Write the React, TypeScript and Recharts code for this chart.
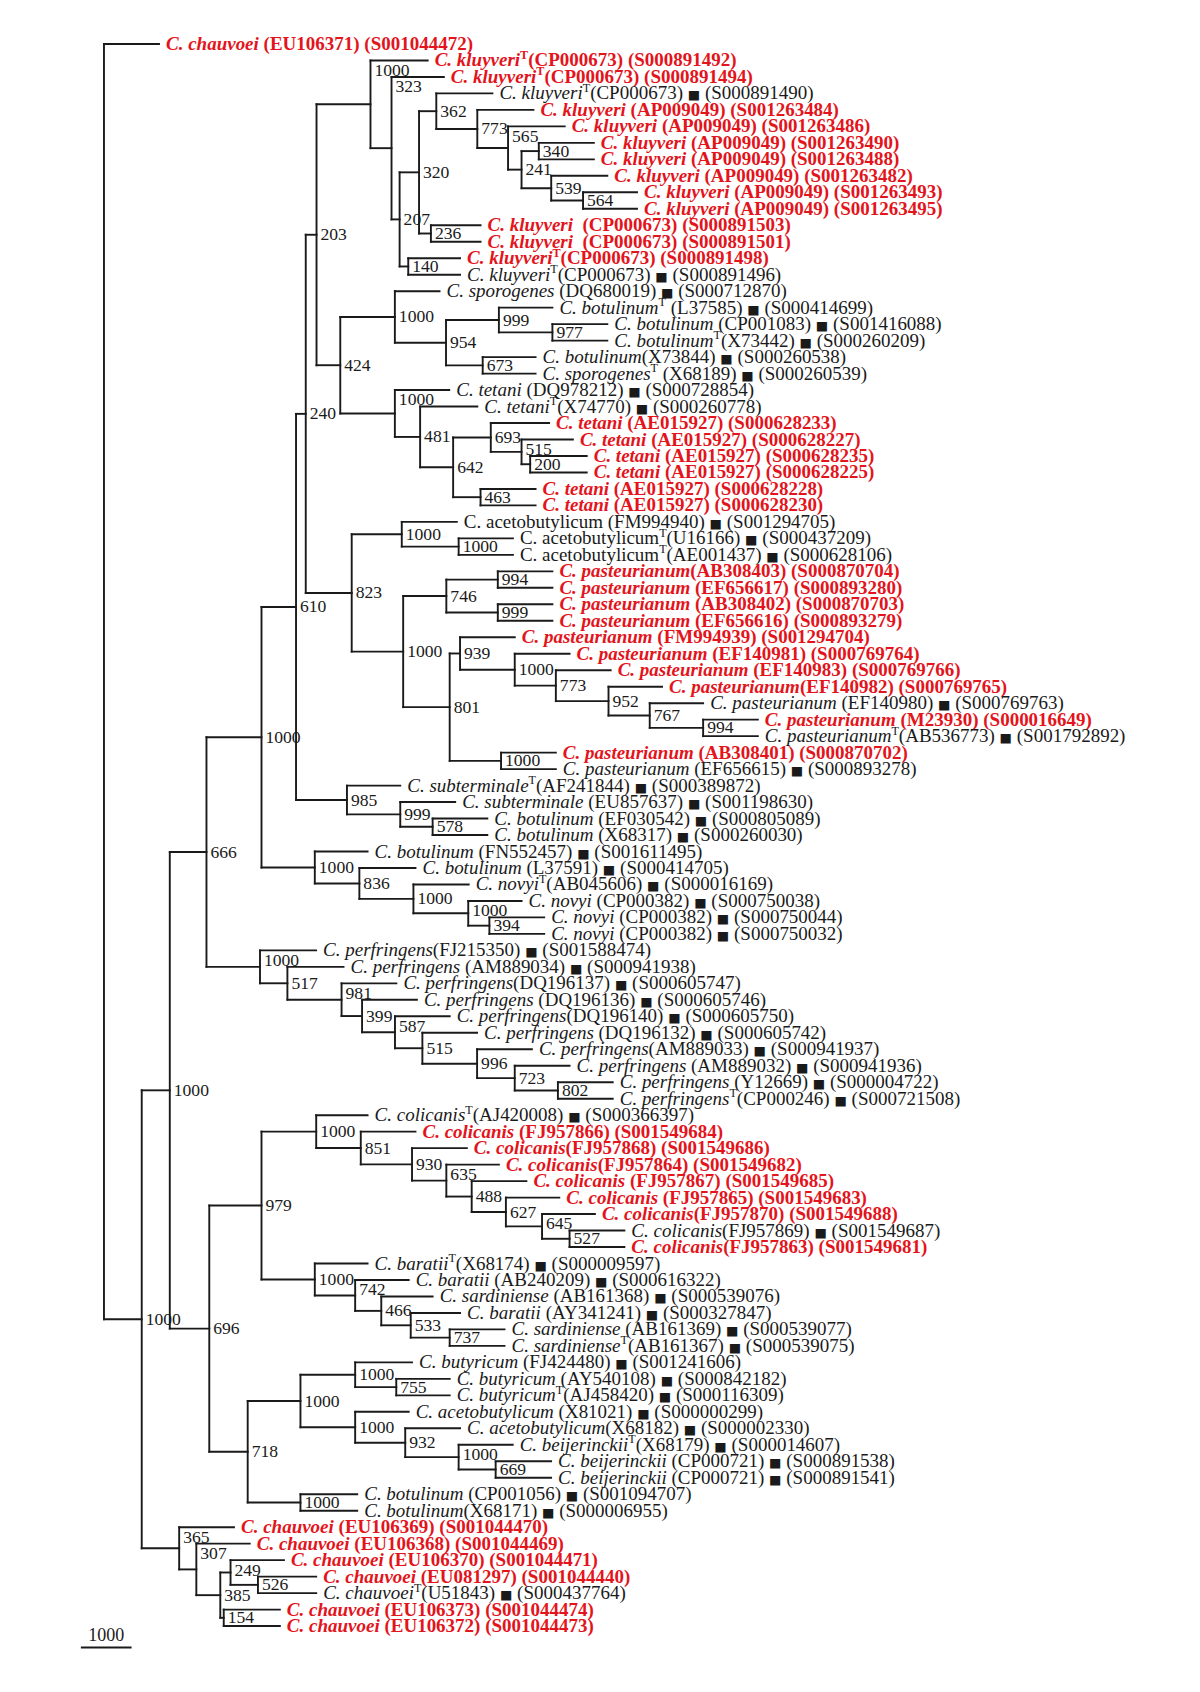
import { ScatterChart, Scatter, XAxis, YAxis, ReferenceLine } from "recharts";

const RED = "#e3141b";
const INK = "#1a1a1a";
const FONT = "'Liberation Serif', 'Times New Roman', serif";
const LEAF_SIZE = 18;
const LEAF_STRETCH = 1.055;
const SUPPORT_SIZE = 16;
const SUPPORT_STRETCH = 1.1;

const CHART_W = 1184;
const CHART_H = 1676;
const MARGIN = { top: 19.5, right: 41.4, bottom: 8.5, left: 63.6 };
const X_DOMAIN: [number, number] = [-30, 970];
const Y_DOMAIN: [number, number] = [0, 100];
const PX_PER_UNIT = (CHART_W - MARGIN.left - MARGIN.right) / (X_DOMAIN[1] - X_DOMAIN[0]);

// leaves, top to bottom
const leafSpecies = [
  "C. chauvoei", "C. kluyveri", "C. kluyveri", "C. kluyveri", "C. kluyveri", "C. kluyveri", "C. kluyveri",
  "C. kluyveri", "C. kluyveri", "C. kluyveri", "C. kluyveri", "C. kluyveri", "C. kluyveri", "C. kluyveri",
  "C. kluyveri", "C. sporogenes", "C. botulinum", "C. botulinum", "C. botulinum", "C. botulinum",
  "C. sporogenes", "C. tetani", "C. tetani", "C. tetani", "C. tetani", "C. tetani", "C. tetani", "C. tetani",
  "C. tetani", "C. acetobutylicum", "C. acetobutylicum", "C. acetobutylicum", "C. pasteurianum",
  "C. pasteurianum", "C. pasteurianum", "C. pasteurianum", "C. pasteurianum", "C. pasteurianum",
  "C. pasteurianum", "C. pasteurianum", "C. pasteurianum", "C. pasteurianum", "C. pasteurianum",
  "C. pasteurianum", "C. pasteurianum", "C. subterminale", "C. subterminale", "C. botulinum", "C. botulinum",
  "C. botulinum", "C. botulinum", "C. novyi", "C. novyi", "C. novyi", "C. novyi", "C. perfringens",
  "C. perfringens", "C. perfringens", "C. perfringens", "C. perfringens", "C. perfringens", "C. perfringens",
  "C. perfringens", "C. perfringens", "C. perfringens", "C. colicanis", "C. colicanis", "C. colicanis",
  "C. colicanis", "C. colicanis", "C. colicanis", "C. colicanis", "C. colicanis", "C. colicanis",
  "C. baratii", "C. baratii", "C. sardiniense", "C. baratii", "C. sardiniense", "C. sardiniense",
  "C. butyricum", "C. butyricum", "C. butyricum", "C. acetobutylicum", "C. acetobutylicum",
  "C. beijerinckii", "C. beijerinckii", "C. beijerinckii", "C. botulinum", "C. botulinum", "C. chauvoei",
  "C. chauvoei", "C. chauvoei", "C. chauvoei", "C. chauvoei", "C. chauvoei", "C. chauvoei",
];

const leafAccession = [
  " (EU106371)", "(CP000673)", "(CP000673)", "(CP000673)", " (AP009049)", " (AP009049)", " (AP009049)",
  " (AP009049)", " (AP009049)", " (AP009049)", " (AP009049)", "  (CP000673)", "  (CP000673)", "(CP000673)",
  "(CP000673)", " (DQ680019)", " (L37585)", " (CP001083)", "(X73442)", "(X73844)", " (X68189)",
  " (DQ978212)", "(X74770)", " (AE015927)", " (AE015927)", " (AE015927)", " (AE015927)", " (AE015927)",
  " (AE015927)", " (FM994940)", "(U16166)", "(AE001437)", "(AB308403)", " (EF656617)", " (AB308402)",
  " (EF656616)", " (FM994939)", " (EF140981)", " (EF140983)", "(EF140982)", " (EF140980)", " (M23930)",
  "(AB536773)", " (AB308401)", " (EF656615)", "(AF241844)", " (EU857637)", " (EF030542)", " (X68317)",
  " (FN552457)", " (L37591)", "(AB045606)", " (CP000382)", " (CP000382)", " (CP000382)", "(FJ215350)",
  " (AM889034)", "(DQ196137)", " (DQ196136)", "(DQ196140)", " (DQ196132)", "(AM889033)", " (AM889032)",
  " (Y12669)", "(CP000246)", "(AJ420008)", " (FJ957866)", "(FJ957868)", "(FJ957864)", " (FJ957867)",
  " (FJ957865)", "(FJ957870)", "(FJ957869)", "(FJ957863)", "(X68174)", " (AB240209)", " (AB161368)",
  " (AY341241)", " (AB161369)", "(AB161367)", " (FJ424480)", " (AY540108)", "(AJ458420)", " (X81021)",
  "(X68182)", "(X68179)", " (CP000721)", " (CP000721)", " (CP001056)", "(X68171)", " (EU106369)",
  " (EU106368)", " (EU106370)", " (EU081297)", "(U51843)", " (EU106373)", " (EU106372)",
];

const leafSeqId = [
  "(S001044472)", "(S000891492)", "(S000891494)", "(S000891490)", "(S001263484)", "(S001263486)",
  "(S001263490)", "(S001263488)", "(S001263482)", "(S001263493)", "(S001263495)", "(S000891503)",
  "(S000891501)", "(S000891498)", "(S000891496)", "(S000712870)", "(S000414699)", "(S001416088)",
  "(S000260209)", "(S000260538)", "(S000260539)", "(S000728854)", "(S000260778)", "(S000628233)",
  "(S000628227)", "(S000628235)", "(S000628225)", "(S000628228)", "(S000628230)", "(S001294705)",
  "(S000437209)", "(S000628106)", "(S000870704)", "(S000893280)", "(S000870703)", "(S000893279)",
  "(S001294704)", "(S000769764)", "(S000769766)", "(S000769765)", "(S000769763)", "(S000016649)",
  "(S001792892)", "(S000870702)", "(S000893278)", "(S000389872)", "(S001198630)", "(S000805089)",
  "(S000260030)", "(S001611495)", "(S000414705)", "(S000016169)", "(S000750038)", "(S000750044)",
  "(S000750032)", "(S001588474)", "(S000941938)", "(S000605747)", "(S000605746)", "(S000605750)",
  "(S000605742)", "(S000941937)", "(S000941936)", "(S000004722)", "(S000721508)", "(S000366397)",
  "(S001549684)", "(S001549686)", "(S001549682)", "(S001549685)", "(S001549683)", "(S001549688)",
  "(S001549687)", "(S001549681)", "(S000009597)", "(S000616322)", "(S000539076)", "(S000327847)",
  "(S000539077)", "(S000539075)", "(S001241606)", "(S000842182)", "(S000116309)", "(S000000299)",
  "(S000002330)", "(S000014607)", "(S000891538)", "(S000891541)", "(S001094707)", "(S000006955)",
  "(S001044470)", "(S001044469)", "(S001044471)", "(S001044440)", "(S000437764)", "(S001044474)",
  "(S001044473)",
];

// distance from root to each leaf tip
const leafTip = [
  51, 300, 315, 360, 398, 427, 454, 454, 466.5, 494, 494, 349, 349, 330, 330, 311, 415.6, 466.5, 466.5, 400,
  400, 320, 346, 412.5, 434.6, 447.4, 447.4, 400, 400, 327, 379, 379, 415.6, 415.6, 415.6, 415.6, 380.7,
  431.5, 469.6, 517.2, 555.3, 606, 606, 418.8, 418.8, 274.6, 325.5, 355.3, 355.3, 244.3, 288.7, 338, 387,
  408, 408, 196.6, 222, 271, 290, 320.4, 345.8, 396.6, 431.5, 471.5, 471.5, 244.3, 288.7, 336.3, 366,
  391.5, 422, 455, 482.3, 482.3, 244.3, 282.4, 304.6, 330, 371.2, 371.2, 285.5, 320.4, 320.4, 282.4, 330,
  378.8, 414.4, 414.4, 234.7, 234.7, 120.5, 135.1, 166.8, 196.7, 196.7, 163, 163,
];

const typeStrains = [2, 3, 4, 14, 15, 17, 19, 21, 23, 31, 32, 43, 46, 52, 65, 66, 75, 80, 83, 86, 95];
const highlighted = [
  1, 2, 3, 5, 6, 7, 8, 9, 10, 11, 12, 13, 14, 24, 25, 26, 27, 28, 29, 33, 34, 35, 36, 37, 38, 39, 40, 42, 44,
  67, 68, 69, 70, 71, 72, 74, 91, 92, 93, 94, 96, 97,
];
const uprightNames = [30, 31, 32];

const scaleBar = { from: -21.4, length: 47, row: 98.3, label: "1000" };

type Kid = TreeNode | number;
type TreeNode = { support: number | null; depth: number; kids: Kid[] };
const n = (support: number | null, depth: number, ...kids: Kid[]): TreeNode => ({ support, depth, kids });

// internal nodes: bootstrap support, distance from root, children (numbers are leaf rows)
const kluyveriAP = n(362, 308, 4, n(773, 346, 5, n(565, 374.5, 6, n(241, 387, n(340, 403, 7, 8), n(539, 414.5, 9, n(564, 444, 10, 11))))));
const kluyveriClade = n(1000, 247, 2, n(323, 266.5, 3, n(207, 274, n(320, 292, kluyveriAP, n(236, 303, 12, 13)), n(140, 282, 14, 15))));
const sporogenesClade = n(1000, 269.6, 16, n(954, 317, n(999, 366, 17, n(977, 415.6, 18, 19)), n(673, 351, 20, 21)));
const tetaniClade = n(1000, 269.6, 22, n(481, 293, 23, n(642, 323.6, n(693, 358.5, 24, n(515, 387, 25, n(200, 395, 26, 27))), n(463, 349, 28, 29))));
const acetobutylicumClade = n(1000, 276, 30, n(1000, 328.7, 31, 32));
const pasteurianumLate = n(939, 330, 37, n(1000, 380.7, 38, n(773, 418.8, 39, n(952, 467.6, 40, n(767, 505.8, 41, n(994, 555.3, 42, 43))))));
const pasteurianumClade = n(1000, 277.3, n(746, 317.3, n(994, 365, 33, 34), n(999, 365, 35, 36)), n(801, 320.4, pasteurianumLate, n(1000, 368, 44, 45)));
const subterminaleClade = n(985, 225.2, 46, n(999, 274.6, 47, n(578, 304.6, 48, 49)));
const novyiClade = n(1000, 195.4, 50, n(836, 236.7, 51, n(1000, 286.8, 52, n(1000, 337.6, 53, n(394, 357.2, 54, 55)))));
const perfringensClade = n(1000, 144.6, 56, n(517, 170, 57, n(981, 220.2, 58, n(399, 239.2, 59, n(587, 269.7, 60, n(515, 295.1, 61, n(996, 345.8, 62, n(723, 380.7, 63, n(802, 420.7, 64, 65)))))))));
const colicanisClade = n(1000, 196.7, 66, n(851, 238, 67, n(930, 285.5, 68, n(635, 317.3, 69, n(488, 340.8, 70, n(627, 372.5, 71, n(645, 406, 72, n(527, 431.5, 73, 74))))))));
const baratiiClade = n(1000, 195.4, 75, n(742, 232.8, 76, n(466, 257, 77, n(533, 284.3, 78, n(737, 320.4, 79, 80)))));
const butyricumClade = n(1000, 182.1, n(1000, 232.8, 81, n(755, 270.9, 82, 83)), n(1000, 232.8, 84, n(932, 279.2, 85, n(1000, 328.7, 86, n(669, 363, 87, 88)))));
const chauvoeiClade = n(365, 69.7, 91, n(307, 85.6, 92, n(385, 107.8, n(249, 117.3, 93, n(526, 142.7, 94, 95)), n(154, 111, 96, 97))));

const n203 = n(203, 197, kluyveriClade, n(424, 219, sporogenesClade, tetaniClade));
const n240 = n(240, 187, n203, n(823, 229.6, acetobutylicumClade, pasteurianumClade));
const n1000b = n(1000, 146, n(610, 178, n240, subterminaleClade), novyiClade);
const n696 = n(696, 97.6, n(979, 146, colicanisClade, baratiiClade), n(718, 133.2, butyricumClade, n(1000, 182.1, 89, 90)));
const tree = n(null, 0, 1, n(1000, 35, n(1000, 61, n(666, 95, n1000b, perfringensClade), n696), chauvoeiClade));

type Seg = { x1: number; y1: number; x2: number; y2: number };
type SupportPoint = { x: number; y: number; support: number };

function layout(root: TreeNode) {
  const segs: Seg[] = [];
  const supports: SupportPoint[] = [];
  const place = (node: TreeNode): number => {
    const ys = node.kids.map((k) => (typeof k === "number" ? k : place(k)));
    const first = ys[0];
    const last = ys[ys.length - 1];
    const y = (first + last) / 2;
    segs.push({ x1: node.depth, y1: first, x2: node.depth, y2: last });
    node.kids.forEach((k, i) => {
      const end = typeof k === "number" ? leafTip[k - 1] : k.depth;
      segs.push({ x1: node.depth, y1: ys[i], x2: end, y2: ys[i] });
    });
    if (node.support != null) {
      const lastKid = node.kids[node.kids.length - 1];
      const labelW = String(node.support).length * SUPPORT_SIZE * SUPPORT_STRETCH * 0.5 + 2;
      const crowded =
        typeof node.kids[0] === "number" &&
        typeof lastKid !== "number" &&
        (lastKid.depth - node.depth) * PX_PER_UNIT < labelW;
      supports.push({ x: node.depth, y: crowded ? first + 0.6 : y, support: node.support });
    }
    return y;
  };
  place(root);
  return { segs, supports };
}

const { segs, supports } = layout(tree);
const leafPoints = leafTip.map((tip, i) => ({ x: tip, y: i + 1, idx: i }));

function LeafLabel(props: any) {
  const { cx, cy, payload } = props;
  const i = payload.idx;
  const row = i + 1;
  const red = highlighted.includes(row);
  const isType = typeStrains.includes(row);
  const upright = uprightNames.includes(row);
  return (
    <text
      transform={`translate(${cx + 7} ${cy + 6}) scale(${LEAF_STRETCH} 1)`}
      fontFamily={FONT}
      fontSize={LEAF_SIZE}
      fontWeight={red ? 700 : 400}
      fill={red ? RED : INK}
      style={{ whiteSpace: "pre" }}
    >
      <tspan fontStyle={upright ? "normal" : "italic"}>{leafSpecies[i]}</tspan>
      {isType && (
        <tspan fontSize={11.5} dy={-7.5}>
          T
        </tspan>
      )}
      <tspan dy={isType ? 7.5 : 0}>{leafAccession[i]}</tspan>
      {!red && <tspan> </tspan>}
      {!red && (
        <tspan fontFamily="'DejaVu Sans', sans-serif" fontSize={12.5}>
          ■
        </tspan>
      )}
      <tspan> {leafSeqId[i]}</tspan>
    </text>
  );
}

function SupportLabel(props: any) {
  const { cx, cy, payload } = props;
  return (
    <text
      transform={`translate(${cx + 4} ${cy + 5.5}) scale(${SUPPORT_STRETCH} 1)`}
      fontFamily={FONT}
      fontSize={SUPPORT_SIZE}
      fill={INK}
    >
      {payload.support}
    </text>
  );
}

export default function App() {
  return (
    <ScatterChart width={CHART_W} height={CHART_H} margin={MARGIN}>
      <XAxis type="number" dataKey="x" domain={X_DOMAIN} allowDataOverflow hide height={0} />
      <YAxis type="number" dataKey="y" domain={Y_DOMAIN} allowDataOverflow reversed hide width={0} />
      {segs.map((s, i) => (
        <ReferenceLine
          key={`seg-${i}`}
          segment={[
            { x: s.x1, y: s.y1 },
            { x: s.x2, y: s.y2 },
          ]}
          stroke={INK}
          strokeWidth={1.9}
          strokeLinecap="square"
        />
      ))}
      <ReferenceLine
        segment={[
          { x: scaleBar.from, y: scaleBar.row },
          { x: scaleBar.from + scaleBar.length, y: scaleBar.row },
        ]}
        stroke={INK}
        strokeWidth={1.9}
        label={{ value: scaleBar.label, position: "top", fill: INK, fontSize: 18, fontFamily: FONT, offset: 6 }}
      />
      <Scatter data={leafPoints} shape={LeafLabel} isAnimationActive={false} />
      <Scatter data={supports} shape={SupportLabel} isAnimationActive={false} />
    </ScatterChart>
  );
}
